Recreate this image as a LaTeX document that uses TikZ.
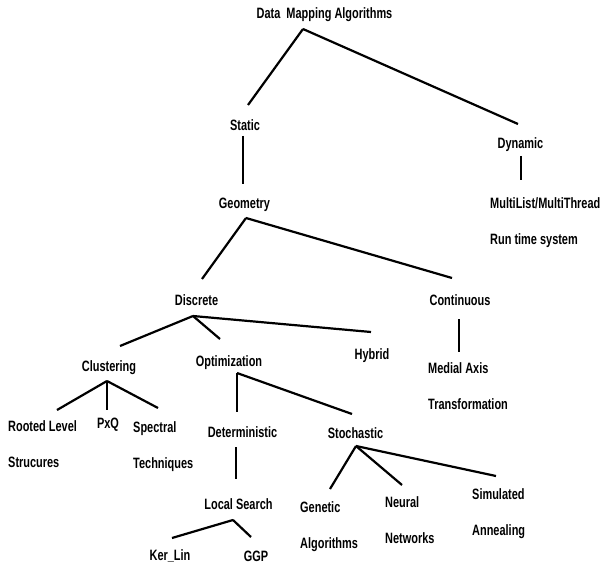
\documentclass[tikz,border=0pt]{standalone}
\usepackage{fontspec}
\setmainfont{Liberation Sans}[FakeStretch=0.73]
\begin{document}
\begin{tikzpicture}[x=1pt,y=-1pt,
  lab/.style={inner sep=0pt,font=\bfseries\fontsize{15}{36}\selectfont},
  lab2/.style={lab,anchor=west,align=left},
  thick line/.style={line width=2.2pt},
  thin line/.style={line width=1.3pt}]
\useasboundingbox (0,0) rectangle (600,567);
% nodes
\node[lab] (dma) at (324.5,15) {Data\ \ Mapping Algorithms};
\node[lab] (static) at (245,125) {Static};
\node[lab] (dynamic) at (520.5,145) {Dynamic};
\node[lab2] (multi) at (490,223) {MultiList/MultiThread\\Run time system};
\node[lab] (geometry) at (244.5,205) {Geometry};
\node[lab] (discrete) at (196.5,300) {Discrete};
\node[lab] (continuous) at (460,300) {Continuous};
\node[lab2] (medial) at (428,386.5) {Medial Axis\\Transformation};
\node[lab] (hybrid) at (372,356) {Hybrid};
\node[lab] (clustering) at (109,367.5) {Clustering};
\node[lab] (optimization) at (229,363) {Optimization};
\node[lab2] (rooted) at (8,444) {Rooted Level\\Strucures};
\node[lab] (pxq) at (108,425) {PxQ};
\node[lab2] (spectral) at (133,446.5) {Spectral\\Techniques};
\node[lab] (deterministic) at (242.5,432) {Deterministic};
\node[lab] (stochastic) at (355.5,433) {Stochastic};
\node[lab] (localsearch) at (238.5,504) {Local Search};
\node[lab] (kerlin) at (170,556) {Ker\_Lin};
\node[lab] (ggp) at (256,556) {GGP};
\node[lab2] (genetic) at (300,527) {Genetic\\Algorithms};
\node[lab2] (neural) at (385,520.5) {Neural\\Networks};
\node[lab2] (simulated) at (472,514) {Simulated\\Annealing};
% connector ends
\coordinate (dma-s) at (303,29);
\coordinate (static-n) at (248,105);
\coordinate (dynamic-n) at (518,124);
\coordinate (static-s) at (243,136);
\coordinate (geometry-n) at (243,184);
\coordinate (dynamic-s) at (521,156);
\coordinate (multi-n) at (521,180);
\coordinate (geometry-s) at (246,218);
\coordinate (discrete-n) at (202,279);
\coordinate (continuous-n) at (452,278);
\coordinate (continuous-s) at (459,319);
\coordinate (medial-n) at (459,352);
\coordinate (discrete-s) at (193,316);
\coordinate (clustering-n) at (120,346);
\coordinate (optimization-n) at (220,339);
\coordinate (hybrid-n) at (371,332);
\coordinate (clustering-s) at (107,381);
\coordinate (rooted-n) at (57,410);
\coordinate (pxq-n) at (107,410);
\coordinate (spectral-n) at (158,408);
\coordinate (optimization-s) at (237,373);
\coordinate (deterministic-n) at (237,412);
\coordinate (stochastic-n) at (352,414);
\coordinate (deterministic-s) at (236,447);
\coordinate (localsearch-n) at (236,479);
\coordinate (stochastic-s) at (356,446);
\coordinate (genetic-n) at (330,489);
\coordinate (neural-n) at (402,485);
\coordinate (simulated-n) at (496,476);
\coordinate (localsearch-s) at (233,520);
\coordinate (kerlin-n) at (172,538);
\coordinate (ggp-n) at (251,537);
% connectors
\draw[thick line] (dma-s) -- (static-n);
\draw[thick line] (dma-s) -- (dynamic-n);
\draw[thin line] (static-s) -- (geometry-n);
\draw[thin line] (dynamic-s) -- (multi-n);
\draw[thick line] (geometry-s) -- (discrete-n);
\draw[thick line] (geometry-s) -- (continuous-n);
\draw[thin line] (continuous-s) -- (medial-n);
\draw[thick line] (discrete-s) -- (clustering-n);
\draw[thick line] (discrete-s) -- (optimization-n);
\draw[thick line] (discrete-s) -- (hybrid-n);
\draw[thick line] (clustering-s) -- (rooted-n);
\draw[thin line] (clustering-s) -- (pxq-n);
\draw[thick line] (clustering-s) -- (spectral-n);
\draw[thin line] (optimization-s) -- (deterministic-n);
\draw[thick line] (optimization-s) -- (stochastic-n);
\draw[thin line] (deterministic-s) -- (localsearch-n);
\draw[thick line] (stochastic-s) -- (genetic-n);
\draw[thick line] (stochastic-s) -- (neural-n);
\draw[thick line] (stochastic-s) -- (simulated-n);
\draw[thick line] (localsearch-s) -- (kerlin-n);
\draw[thick line] (localsearch-s) -- (ggp-n);
\end{tikzpicture}
\end{document}
